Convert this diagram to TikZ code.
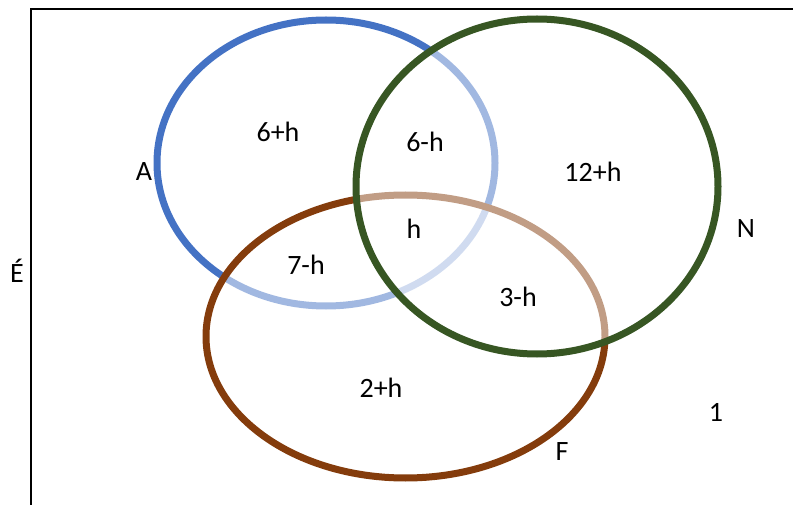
\documentclass[tikz,border=0pt]{standalone}
\usepackage{fontspec}
\setmainfont{Carlito}
\definecolor{blueA}{HTML}{4472C4}
\definecolor{greenN}{HTML}{375623}
\definecolor{brownF}{HTML}{843C0C}
\begin{document}
\begin{tikzpicture}[x=1pt,y=-1pt,
  lab/.style={inner sep=0pt, font=\fontsize{28}{34}\selectfont},
  ring/.style={line width=7pt},
  veil/.style={fill=white, fill opacity=0.5}]
\useasboundingbox (0,0) rectangle (793,505);
% frame
\coordinate (fb) at (30.5,505);
\coordinate (fc) at (30.5,9.3);
\coordinate (fr) at (793,9.3);
\draw[line width=2pt] (fb) -- (fc) -- (fr);
% set A (bottom layer)
\draw[ring, blueA] (326,163) ellipse [x radius=169, y radius=143];
% set F (middle layer)
\fill[veil] (405.5,336.5) ellipse [x radius=199.5, y radius=141.5];
\draw[ring, brownF] (405.5,336.5) ellipse [x radius=199.5, y radius=141.5];
% set N (top layer)
\fill[veil] (537,186.5) ellipse [x radius=181, y radius=167.5];
\draw[ring, greenN] (537,186.5) ellipse [x radius=181, y radius=167.5];
% labels
\node[lab] (a1) at (278,132) {6+h};
\node[lab] (a2) at (425,142) {6-h};
\node[lab] (n1) at (593,172) {12+h};
\node[lab] (c) at (414,229) {h};
\node[lab] (af) at (306,265) {7-h};
\node[lab] (nf) at (518,297) {3-h};
\node[lab] (f1) at (381,388) {2+h};
\node[lab] (out) at (716,412) {1};
\node[lab] (lA) at (144,172) {A};
\node[lab] (lN) at (746,229) {N};
\node[lab] (lF) at (562,452) {F};
\node[lab] (lE) at (17,271) {É};
\end{tikzpicture}
\end{document}
